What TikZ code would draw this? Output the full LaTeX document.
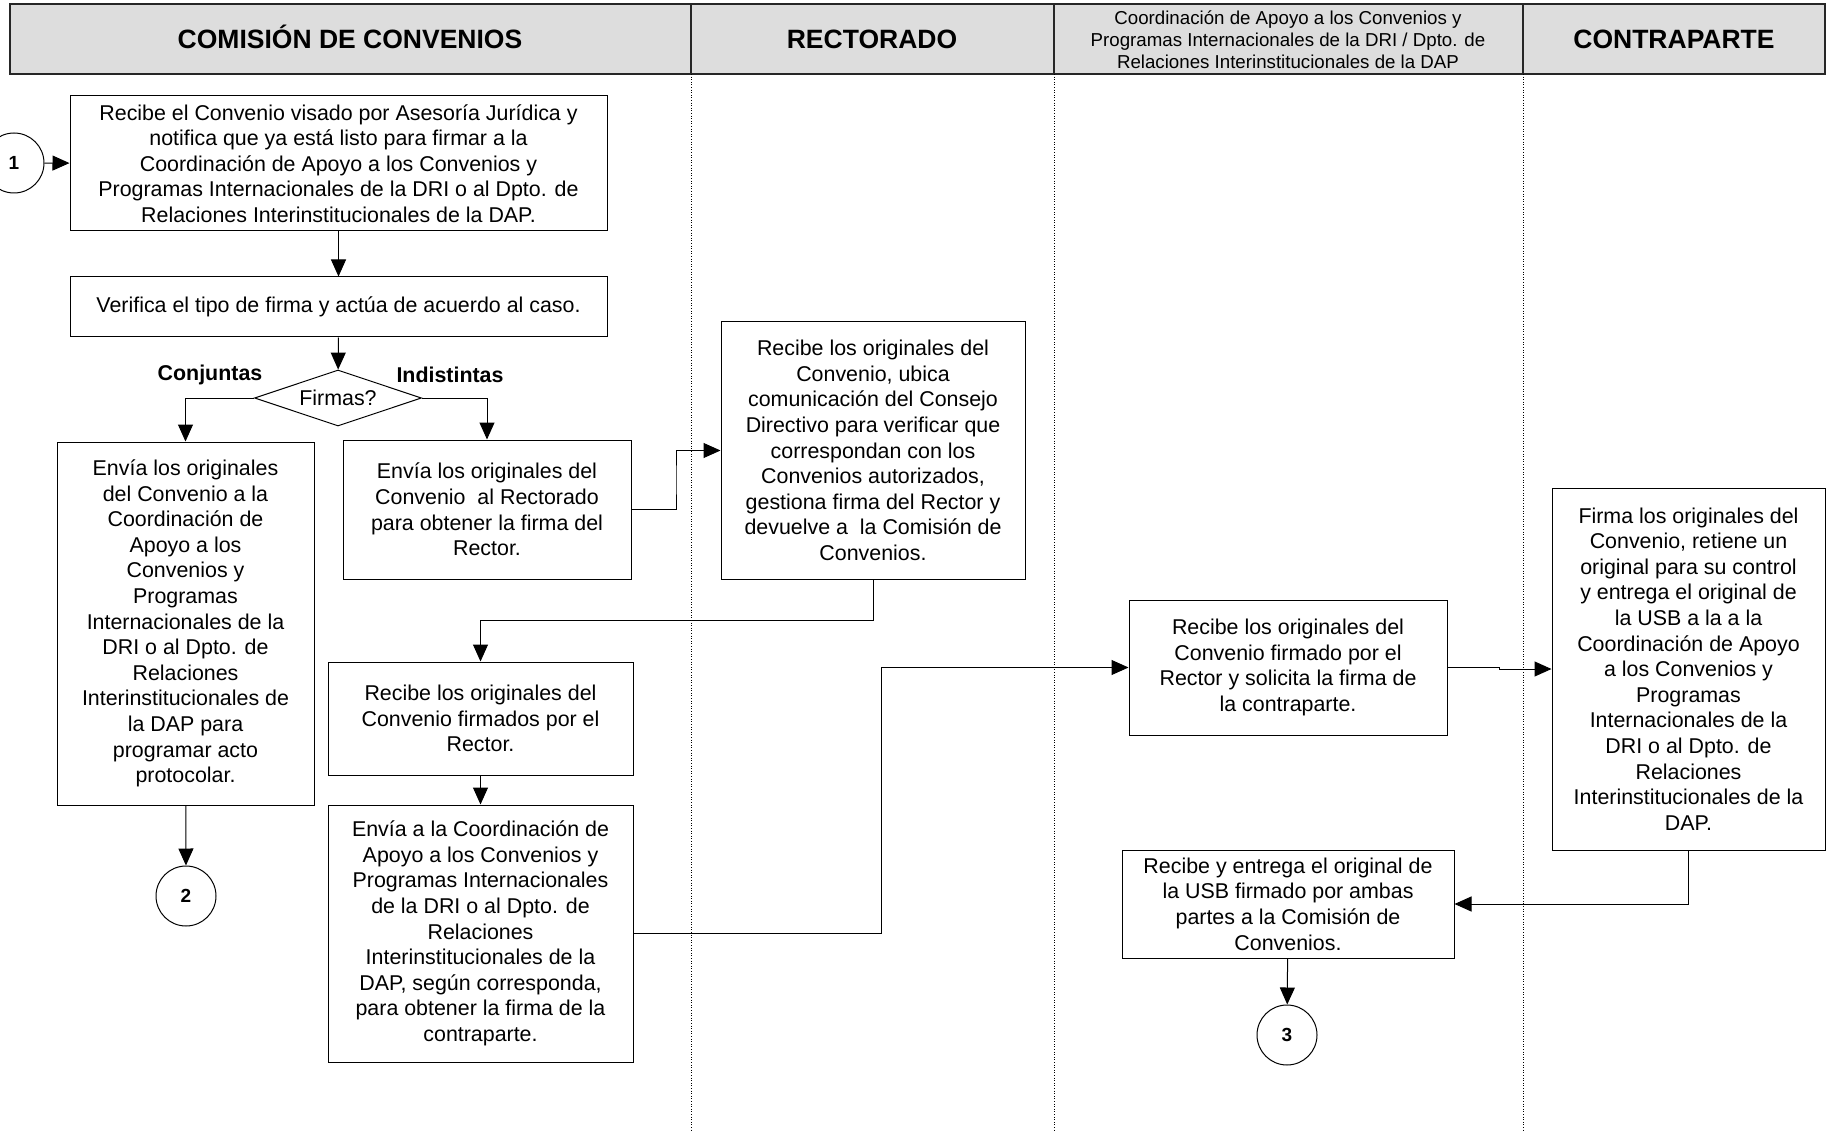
\documentclass[tikz,border=0pt]{standalone}
\usepackage{fontspec}
\setmainfont{Liberation Sans}
\usepackage{tikz}
\usetikzlibrary{arrows.meta,calc,positioning,shapes.geometric}

\definecolor{cabecera}{HTML}{DDDDDD}

\tikzset{
  paso/.style={draw,line width=1pt,align=center,inner sep=0pt,
    font=\fontsize{21.4}{25.6}\selectfont},
  enlace/.style={circle,draw,line width=1pt,minimum size=60pt,inner sep=0pt,
    font=\bfseries\fontsize{19}{22}\selectfont},
  flecha/.style={-{Triangle[length=17pt,width=15pt]},line width=1pt},
  carril/.style={dotted,line width=0.6pt},
  titulo/.style={anchor=base,font=\bfseries\fontsize{26.5}{30}\selectfont}
}

\begin{document}
\begin{tikzpicture}[x=1pt,y=-1pt]
\useasboundingbox (0,0) rectangle (1830,1131);
% cabecera de carriles
\fill[cabecera] (10,4) rectangle (1825,74);
\draw[line width=1.4pt,black!85] (10,4) rectangle (1825,74);
\foreach \xc in {691,1054,1523}{
  \draw[line width=1.4pt,black!85] (\xc,4)--(\xc,74);
  \draw[carril] (\xc,74)--(\xc,1131);
}
\node[titulo] (tcom) at (350,49) {COMISIÓN DE CONVENIOS};
\node[titulo] (trec) at (872,49) {RECTORADO};
\node[align=center,font=\fontsize{18.7}{21.8}\selectfont] (tcoo) at (1288,40)
  {Coordinación de Apoyo a los Convenios y\\Programas Internacionales de la DRI / Dpto. de\\Relaciones Interinstitucionales de la DAP};
\node[titulo] (tcon) at (1674,49) {CONTRAPARTE};

% pasos
\node[enlace] (c1) at (14,163) {1};
\node[paso,minimum width=537pt,minimum height=135pt] (b1) at (338.5,163.5)
  {Recibe el Convenio visado por Asesoría Jurídica y\\notifica que ya está listo para firmar a la\\Coordinación de Apoyo a los Convenios y\\Programas Internacionales de la DRI o al Dpto. de\\Relaciones Interinstitucionales de la DAP.};
\node[paso,minimum width=537pt,minimum height=60pt] (b2) at (338.5,307)
  {Verifica el tipo de firma y actúa de acuerdo al caso.};
\node[diamond,draw,line width=1pt,aspect=3,inner sep=0pt,minimum width=167pt,
  minimum height=56pt,font=\fontsize{21.4}{25.6}\selectfont] (fir) at (338,398) {Firmas?};
\node[font=\bfseries\fontsize{21.4}{25.6}\selectfont] (lconj) at (210,375) {Conjuntas};
\node[font=\bfseries\fontsize{21.4}{25.6}\selectfont] (lindi) at (450,375) {Indistintas};
\node[paso,minimum width=257pt,minimum height=363pt] (b3) at (185.5,623.5)
  {Envía los originales\\del Convenio a la\\Coordinación de\\Apoyo a los\\Convenios y\\Programas\\Internacionales de la\\DRI o al Dpto. de\\Relaciones\\Interinstitucionales de\\la DAP para\\programar acto\\protocolar.};
\node[paso,minimum width=288pt,minimum height=139pt] (b4) at (487,509.5)
  {Envía los originales del\\Convenio\ \ al Rectorado\\para obtener la firma del\\Rector.};
\node[paso,minimum width=304pt,minimum height=257pt] (b5) at (873,450.5)
  {Recibe los originales del\\Convenio, ubica\\comunicación del Consejo\\Directivo para verificar que\\correspondan con los\\Convenios autorizados,\\gestiona firma del Rector y\\devuelve a\ \ la Comisión de\\Convenios.};
\node[paso,minimum width=305pt,minimum height=113pt] (b6) at (480.5,718.5)
  {Recibe los originales del\\Convenio firmados por el\\Rector.};
\node[paso,minimum width=305pt,minimum height=257pt] (b7) at (480.5,933.5)
  {Envía a la Coordinación de\\Apoyo a los Convenios y\\Programas Internacionales\\de la DRI o al Dpto. de\\Relaciones\\Interinstitucionales de la\\DAP, según corresponda,\\para obtener la firma de la\\contraparte.};
\node[paso,minimum width=318pt,minimum height=135pt] (b8) at (1288,667.5)
  {Recibe los originales del\\Convenio firmado por el\\Rector y solicita la firma de\\la contraparte.};
\node[paso,minimum width=273pt,minimum height=362pt] (b9) at (1688.5,669)
  {Firma los originales del\\Convenio, retiene un\\original para su control\\y entrega el original de\\la USB a la a la\\Coordinación de Apoyo\\a los Convenios y\\Programas\\Internacionales de la\\DRI o al Dpto. de\\Relaciones\\Interinstitucionales de la\\DAP.};
\node[paso,minimum width=332pt,minimum height=108pt] (b10) at (1288,904)
  {Recibe y entrega el original de\\la USB firmado por ambas\\partes a la Comisión de\\Convenios.};
\node[enlace] (c2) at (186,896) {2};
\node[enlace] (c3) at (1287,1035) {3};

% conectores
\draw[flecha] (c1) -- (b1);
\draw[flecha] (b1) -- (b2);
\draw[flecha] (b2) -- (fir);
\draw[flecha] (fir.west) -| (b3.north);
\draw[flecha] (fir.east) -| (b4.north);
\draw[flecha] (b4.east) -| ($(b4.east)!0.5!(b5.west)$) |- (b5.west);
\draw[flecha] (b5.south) |- ($(b5.south)!0.5!(b6.north)$) -| (b6.north);
\draw[flecha] (b6) -- (b7);
\draw[flecha] (b7.east) -| ($(b7.east)!0.5!(b8.west)$) |- (b8.west);
\draw[flecha] (b8.east) -| ($(b8.east)!0.5!(b9.west)$) |- (b9.west);
\draw[flecha] (b9.south) |- (b10.east);
\draw[flecha] (b3) -- (c2);
\draw[flecha] (b10) -- (c3);
\end{tikzpicture}
\end{document}
